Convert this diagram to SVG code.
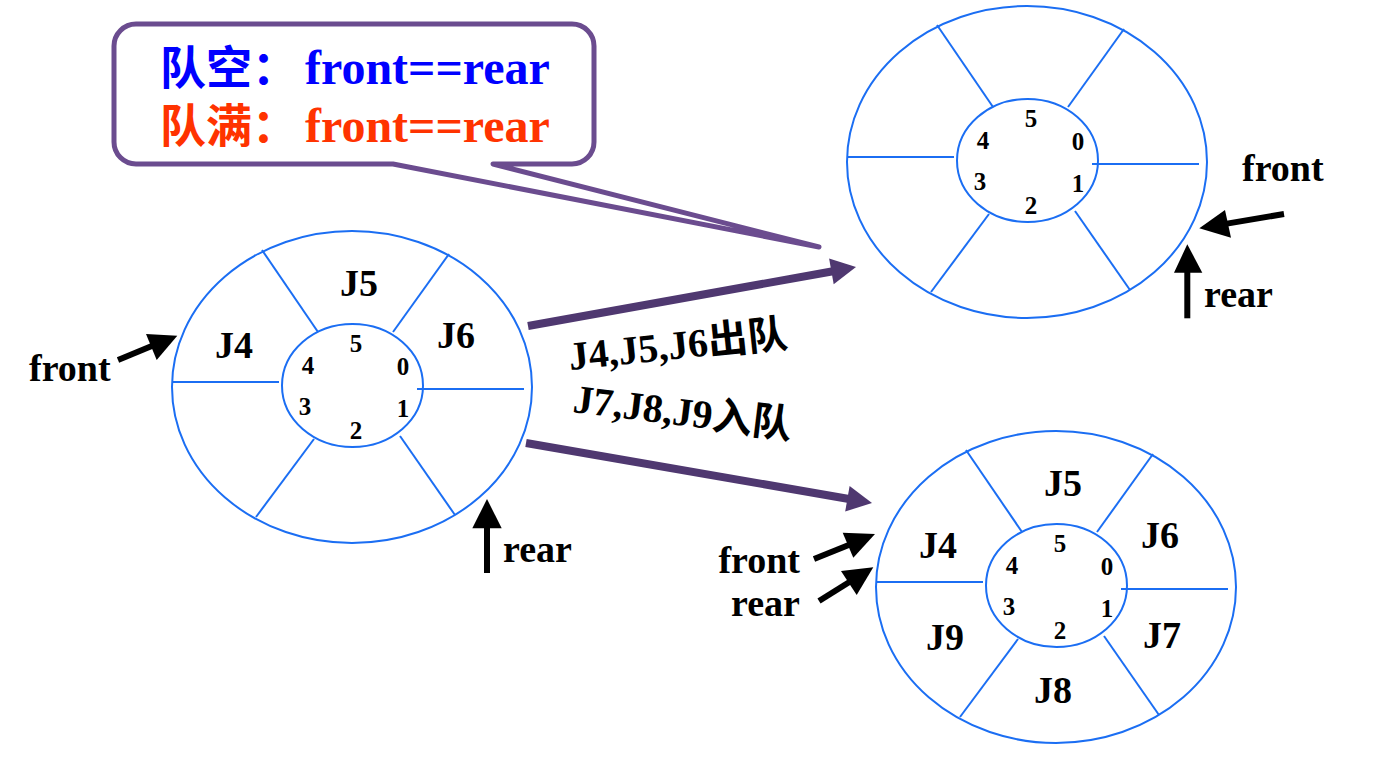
<svg xmlns="http://www.w3.org/2000/svg" xmlns:xlink="http://www.w3.org/1999/xlink" width="1399" height="768" viewBox="0 0 1399 768">
<style>
.ring{fill:none;stroke:#1b6ef3;stroke-width:2}
.dig{font-family:"Liberation Serif","Times New Roman",serif;font-weight:bold;font-size:25px;fill:#000;text-anchor:middle}
.lab{font-family:"Liberation Serif","Times New Roman",serif;font-weight:bold;font-size:38px;fill:#000;text-anchor:middle}
.ptr{font-family:"Liberation Serif","Times New Roman",serif;font-weight:bold;font-size:38px;fill:#000}
.cjk{font-family:"Noto Sans CJK SC",sans-serif;font-weight:bold}
.lat{font-family:"Liberation Serif","Times New Roman",serif;font-weight:bold}
.blk{stroke:#000;stroke-width:6;fill:none}
.bhead{fill:#000}
.pur{stroke:#4f3870;stroke-width:8;fill:none}
.phead{fill:#4f3870}
</style>
<defs>
<g id="ring">
<ellipse class="ring" cx="0" cy="0" rx="180" ry="156"/>
<ellipse class="ring" cx="0.5" cy="-1.5" rx="70.5" ry="61.5"/>
<line class="ring" x1="-180" y1="-5" x2="-73" y2="-5"/>
<line class="ring" x1="65" y1="2" x2="172" y2="2"/>
<line class="ring" x1="-90" y1="-137" x2="-34" y2="-55"/>
<line class="ring" x1="97" y1="-133" x2="41" y2="-55"/>
<line class="ring" x1="-38" y1="52" x2="-96" y2="130"/>
<line class="ring" x1="48" y1="49" x2="103" y2="128"/>
<text class="dig" x="4" y="-35">5</text>
<text class="dig" x="-44" y="-13">4</text>
<text class="dig" x="51" y="-12">0</text>
<text class="dig" x="-47" y="28">3</text>
<text class="dig" x="51" y="30">1</text>
<text class="dig" x="4" y="52">2</text>
</g>
</defs>
<rect width="1399" height="768" fill="#fff"/>

<g id="callout">
<path d="M136,24 H572 A22,22 0 0 1 594,46 V142 A22,22 0 0 1 572,164 H493 L819,247 L393,164 H136 A22,22 0 0 1 114,142 V46 A22,22 0 0 1 136,24 Z" fill="#fff" stroke="#6b4c8f" stroke-width="5" stroke-linejoin="round"/>
<text><tspan class="cjk" x="160" y="84" font-size="46" fill="#0000ff">队空：</tspan><tspan class="lat" x="305" y="84" font-size="48" fill="#0000ff">front==rear</tspan><tspan class="cjk" x="160" y="142" font-size="46" fill="#ff3300">队满：</tspan><tspan class="lat" x="305" y="142" font-size="48" fill="#ff3300">front==rear</tspan></text>
</g>

<g id="queue-left" transform="translate(352,387)">
<use xlink:href="#ring" href="#ring"/>
<text class="lab" x="7" y="-91">J5</text>
<text class="lab" x="-118" y="-29">J4</text>
<text class="lab" x="104" y="-39">J6</text>
</g>

<g id="queue-empty" transform="translate(1027,162)">
<use xlink:href="#ring" href="#ring"/>
</g>

<g id="queue-full" transform="translate(1056,587)">
<use xlink:href="#ring" href="#ring"/>
<text class="lab" x="7" y="-91">J5</text>
<text class="lab" x="-118" y="-29">J4</text>
<text class="lab" x="104" y="-39">J6</text>
<text class="lab" x="-111" y="63">J9</text>
<text class="lab" x="106" y="61">J7</text>
<text class="lab" x="-3" y="116">J8</text>
</g>

<g id="pointer-labels">
<text class="ptr" x="29" y="381" font-size="39">front</text>
<text class="ptr" x="503" y="562">rear</text>
<text class="ptr" x="1242" y="181" font-size="39">front</text>
<text class="ptr" x="1204" y="307">rear</text>
<text class="ptr" x="800" y="573" text-anchor="end" font-size="39">front</text>
<text class="ptr" x="800" y="616" text-anchor="end">rear</text>
</g>

<g id="op-labels">
<text transform="rotate(-6 570 370)" x="570" y="370" font-size="40"><tspan class="lat">J4,J5,J6</tspan><tspan class="cjk">出队</tspan></text>
<text transform="rotate(7 572 412)" x="572" y="412" font-size="40"><tspan class="lat">J7,J8,J9</tspan><tspan class="cjk">入队</tspan></text>
</g>

<g id="connectors">
<line class="pur" x1="528" y1="326" x2="833" y2="271.2"/>
<polygon class="phead" points="856,267 833.7,284.2 829.1,258.6"/>
<line class="pur" x1="526" y1="443" x2="849" y2="499"/>
<polygon class="phead" points="872,503 845.2,511.5 849.6,485.9"/>

<line class="blk" x1="118" y1="360" x2="153" y2="345.6"/>
<polygon class="bhead" points="177.3,335.7 146,334 156.7,360"/>
<line class="blk" x1="487" y1="573" x2="487" y2="526"/>
<polygon class="bhead" points="487,499 472.3,528.3 501.7,528.3"/>

<line class="blk" x1="1284" y1="214" x2="1227" y2="223.6"/>
<polygon class="bhead" points="1199.3,228.3 1225,210 1231,237.7"/>
<line class="blk" x1="1187.3" y1="318.3" x2="1187.3" y2="270"/>
<polygon class="bhead" points="1187.3,244.3 1174,272.7 1202.3,272.7"/>

<line class="blk" x1="814" y1="559" x2="850" y2="544.5"/>
<polygon class="bhead" points="875,534 842.7,532.7 853.3,557.7"/>
<line class="blk" x1="819" y1="601" x2="851" y2="581"/>
<polygon class="bhead" points="873.3,567.3 841,571 856.7,595"/>
</g>
</svg>
